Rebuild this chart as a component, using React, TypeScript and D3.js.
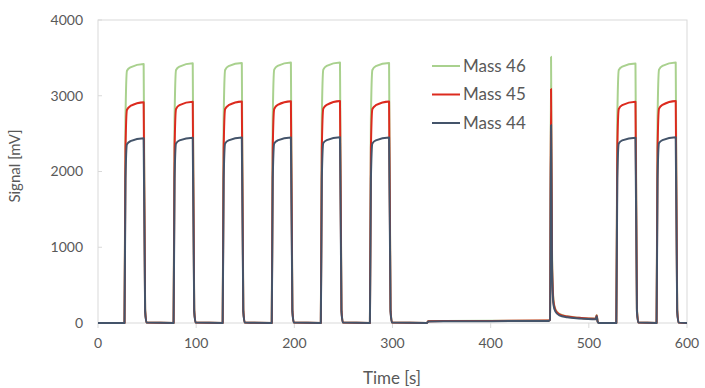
import React, { useEffect, useRef } from 'react';
import * as d3 from 'd3';

// time keypoints [s], shared by the three series
const time = [
  0,
  27, 28, 29.5, 33, 46.5, 48, 49.5,
  77, 78, 79.5, 83, 96.5, 98, 99.5,
  127, 128, 129.5, 133, 146.5, 148, 149.5,
  177, 178, 179.5, 183, 196.5, 198, 199.5,
  227, 228, 229.5, 233, 246.5, 248, 249.5,
  277, 278, 279.5, 283, 296.5, 298, 299.5,
  335, 336.5, 400, 459, 460.5, 461.5, 462.5, 464, 466, 470, 478, 490, 507, 508, 509, 510.5,
  528, 529, 530.5, 534, 547.5, 549, 550.5,
  569, 570, 571.5, 575, 588.5, 590, 591.5,
  600,
];

const mass44 = [
  0,
  0, 1900, 2360, 2400, 2440, 150, 5,
  0, 1900, 2370, 2410, 2445, 150, 5,
  0, 1900, 2370, 2410, 2448, 150, 5,
  0, 1900, 2370, 2410, 2450, 150, 5,
  0, 1900, 2375, 2415, 2452, 150, 5,
  0, 1900, 2370, 2410, 2448, 150, 5,
  0, 20, 24, 28, 40, 2614, 700, 240, 150, 100, 75, 60, 50, 90, 15, 0,
  0, 1900, 2370, 2410, 2445, 150, 5,
  0, 1900, 2375, 2415, 2452, 150, 5,
  0,
];

const mass45 = [
  0,
  0, 2300, 2815, 2865, 2915, 170, 5,
  0, 2300, 2825, 2875, 2922, 170, 5,
  0, 2300, 2825, 2875, 2925, 170, 5,
  0, 2300, 2825, 2880, 2928, 170, 5,
  0, 2300, 2830, 2880, 2930, 170, 5,
  0, 2300, 2825, 2875, 2925, 170, 5,
  0, 24, 28, 32, 45, 3090, 820, 280, 170, 115, 85, 68, 56, 100, 18, 0,
  0, 2300, 2825, 2875, 2920, 170, 5,
  0, 2300, 2830, 2880, 2930, 170, 5,
  0,
];

const mass46 = [
  0,
  0, 2700, 3330, 3375, 3420, 190, 5,
  0, 2700, 3340, 3385, 3430, 190, 5,
  0, 2700, 3340, 3390, 3432, 190, 5,
  0, 2700, 3345, 3395, 3440, 190, 5,
  0, 2700, 3345, 3395, 3440, 190, 5,
  0, 2700, 3340, 3390, 3432, 190, 5,
  0, 25, 29, 33, 48, 3516, 950, 300, 180, 120, 88, 70, 58, 105, 20, 0,
  0, 2700, 3340, 3385, 3425, 190, 5,
  0, 2700, 3345, 3395, 3440, 190, 5,
  0,
];

const seriesNames = ['Mass 46', 'Mass 45', 'Mass 44'];
const seriesValues = [mass46, mass45, mass44];
const seriesColors = ['#a9d18e', '#dc2a1e', '#44546a'];

const xTicks = [0, 100, 200, 300, 400, 500, 600];
const yTicks = [0, 1000, 2000, 3000, 4000];

const W = 705, H = 388;
const margin = { top: 20, right: 18, bottom: 65, left: 98 };
const FONT = 'Lato, "Open Sans", sans-serif';

export default function App() {
  const ref = useRef<SVGSVGElement>(null);

  useEffect(() => {
    const svg = d3.select(ref.current);
    svg.selectAll('*').remove();
    const w = W - margin.left - margin.right;
    const h = H - margin.top - margin.bottom;

    const x = d3.scaleLinear().domain([0, 600]).range([0, w]);
    const y = d3.scaleLinear().domain([0, 4000]).range([h, 0]);

    const g = svg.append('g').attr('transform', `translate(${margin.left},${margin.top})`);

    // frame
    g.append('rect')
      .attr('x', 0).attr('y', 0).attr('width', w).attr('height', h)
      .attr('fill', 'none').attr('stroke', '#d9d9d9').attr('stroke-width', 1);

    // x ticks + labels
    xTicks.forEach(t => {
      g.append('line')
        .attr('x1', x(t)).attr('x2', x(t)).attr('y1', h).attr('y2', h + 5)
        .attr('stroke', '#d9d9d9');
      g.append('text')
        .attr('x', x(t)).attr('y', h + 25)
        .attr('text-anchor', 'middle')
        .attr('font-family', FONT).attr('font-size', 14).attr('fill', '#595959')
        .text(t);
    });

    // y ticks + labels
    yTicks.forEach(t => {
      g.append('line')
        .attr('x1', 0).attr('x2', 4).attr('y1', y(t)).attr('y2', y(t))
        .attr('stroke', '#d9d9d9');
      g.append('text')
        .attr('x', -15).attr('y', y(t)).attr('dy', '0.35em')
        .attr('text-anchor', 'end')
        .attr('font-family', FONT).attr('font-size', 14).attr('fill', '#595959')
        .text(t);
    });

    // lines, Mass 46 first so Mass 44 sits on top
    seriesValues.forEach((vals, i) => {
      const line = d3.line<number>()
        .x((_, j) => x(time[j]))
        .y(d => y(d))
        .curve(d3.curveMonotoneX);
      g.append('path')
        .datum(vals)
        .attr('fill', 'none')
        .attr('stroke', seriesColors[i])
        .attr('stroke-width', 2)
        .attr('stroke-linejoin', 'round')
        .attr('d', line);
    });

    // legend
    seriesNames.forEach((name, i) => {
      const ly = 66 + i * 28.5;
      svg.append('line')
        .attr('x1', 432).attr('x2', 460).attr('y1', ly).attr('y2', ly)
        .attr('stroke', seriesColors[i]).attr('stroke-width', 2);
      svg.append('text')
        .attr('x', 463).attr('y', ly).attr('dy', '0.35em')
        .attr('font-family', FONT).attr('font-size', 17).attr('fill', '#595959')
        .text(name);
    });

    // axis titles
    svg.append('text')
      .attr('x', 392).attr('y', 384)
      .attr('text-anchor', 'middle')
      .attr('font-family', FONT).attr('font-size', 17).attr('fill', '#595959')
      .text('Time [s]');
    svg.append('text')
      .attr('transform', `translate(20,166) rotate(-90)`)
      .attr('text-anchor', 'middle')
      .attr('font-family', FONT).attr('font-size', 15).attr('fill', '#595959')
      .text('Signal [mV]');
  }, []);

  return (
    <svg ref={ref} width={W} height={H}
      style={{ position: 'absolute', left: 0, top: 0, background: '#fff' }} />
  );
}
